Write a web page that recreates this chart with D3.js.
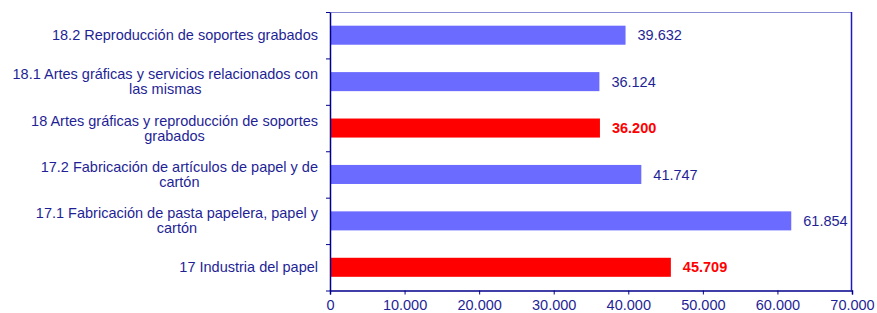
<!DOCTYPE html>
<html>
<head>
<meta charset="utf-8">
<script src="https://cdn.jsdelivr.net/npm/d3@7"></script>
<style>
  body { margin: 0; background: #fff; }
  text { font-family: "Liberation Sans", Arial, sans-serif; }
</style>
</head>
<body>
<script>
// categories top to bottom, "\n" marks the wrapped line
var categories = [
    "18.2 Reproducción de soportes grabados",
    "18.1 Artes gráficas y servicios relacionados con\nlas mismas",
    "18 Artes gráficas y reproducción de soportes\ngrabados",
    "17.2 Fabricación de artículos de papel y de\ncartón",
    "17.1 Fabricación de pasta papelera, papel y\ncartón",
    "17 Industria del papel"];
var values = [39632, 36124, 36200, 41747, 61854, 45709];
var highlighted = [false, false, true, false, false, true];
var xTicks = [0, 10000, 20000, 30000, 40000, 50000, 60000, 70000];

var margin = {top: 12, right: 25, bottom: 22, left: 330},
    width = 877 - margin.left - margin.right,
    height = 313 - margin.top - margin.bottom - 0.5;

var textColor = "#1f1f96";
var axisColor = "#00008b";

var fmt = function(v) {
    return d3.format(",")(v).replace(/,/g, ".");
};

var svg = d3.select("body").append("svg")
    .attr("width", 877)
    .attr("height", 313)
    .append("g")
    .attr("transform", "translate(" + margin.left + "," + margin.top + ")");

var x = d3.scaleLinear()
    .domain([0, 70000])
    .range([0, width]);

var y = d3.scaleBand()
    .domain(categories)
    .range([0, height])
    .paddingInner(0.59)
    .paddingOuter(0.295);

// plot frame (top + right)
svg.append("line")
    .attr("x1", 0).attr("x2", width)
    .attr("y1", 0.5).attr("y2", 0.5)
    .attr("stroke", "#8a8ad0");
svg.append("line")
    .attr("x1", width - 0.5).attr("x2", width - 0.5)
    .attr("y1", 0).attr("y2", height)
    .attr("stroke", "#1a1ac0")
    .attr("stroke-width", 1.5);

// bars
var data = categories.map(function(c, i) {
    return {cat: c, value: values[i], hi: highlighted[i]};
});

svg.selectAll(".bar")
    .data(data)
    .enter()
    .append("rect")
    .attr("class", "bar")
    .attr("x", 0)
    .attr("y", function(d) { return y(d.cat); })
    .attr("width", function(d) { return x(d.value); })
    .attr("height", y.bandwidth())
    .attr("fill", function(d) { return d.hi ? "#ff0000" : "#6b6bff"; });

// value labels
svg.selectAll(".val")
    .data(data)
    .enter()
    .append("text")
    .attr("class", "val")
    .attr("x", function(d) { return x(d.value) + 12; })
    .attr("y", function(d) { return y(d.cat) + y.bandwidth() / 2; })
    .attr("dy", "0.35em")
    .attr("fill", function(d) { return d.hi ? "#ff0000" : textColor; })
    .style("font-size", "14.5px")
    .style("font-weight", function(d) { return d.hi ? "bold" : "normal"; })
    .text(function(d) { return fmt(d.value); });

// x axis
var xAxis = svg.append("g")
    .attr("transform", "translate(0," + height + ")")
    .call(d3.axisBottom(x).tickValues(xTicks).tickSize(4).tickFormat(fmt));
xAxis.select(".domain").attr("stroke", axisColor).attr("stroke-width", 1.5);
xAxis.selectAll(".tick line").attr("stroke", axisColor);
xAxis.selectAll(".tick text")
    .attr("fill", textColor)
    .attr("y", 9)
    .style("font-size", "14.5px")
    .style("font-family", "Liberation Sans, Arial, sans-serif");

// y axis: ticks at band boundaries
var yEdge = d3.scaleLinear().domain([0, categories.length]).range([0, height]);
var yAxis = svg.append("g")
    .call(d3.axisLeft(yEdge).tickValues(d3.range(categories.length + 1))
        .tickSize(4).tickSizeOuter(0).tickFormat(""));
yAxis.select(".domain").attr("stroke", axisColor).attr("stroke-width", 1.5);
yAxis.selectAll(".tick line").attr("stroke", axisColor);

// category labels, block right-aligned, lines centred in block
var labels = svg.selectAll(".cat")
    .data(data)
    .enter()
    .append("text")
    .attr("class", "cat")
    .attr("fill", textColor)
    .style("font-size", "14.5px");

labels.each(function(d) {
    var t = d3.select(this);
    var lines = d.cat.split("\n");
    var cy = y(d.cat) + y.bandwidth() / 2;
    var lh = 15;
    var spans = lines.map(function(l, i) {
        return t.append("tspan")
            .attr("y", cy + (i - (lines.length - 1) / 2) * lh)
            .attr("dy", "0.35em")
            .text(l);
    });
    var w = d3.max(spans, function(s) { return s.node().getComputedTextLength(); });
    var right = -12;
    spans.forEach(function(s) {
        s.attr("x", right - w / 2).attr("text-anchor", "middle");
    });
});
</script>
</body>
</html>
